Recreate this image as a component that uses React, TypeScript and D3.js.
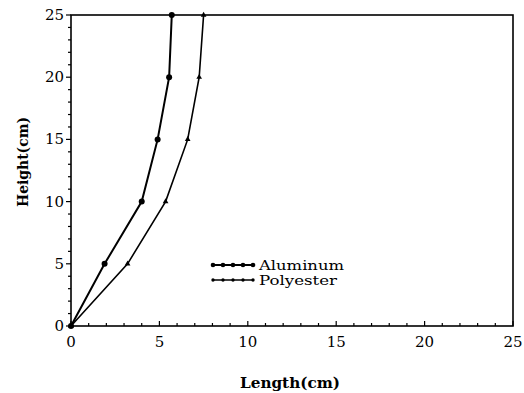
import React from "react";
import * as d3 from "d3";

const heights = [0, 5, 10, 15, 20, 25];
const aluminum = [0, 1.9, 4.0, 4.9, 5.55, 5.7];
const polyester = [0, 3.2, 5.35, 6.6, 7.25, 7.5];
const xTicks = [0, 5, 10, 15, 20, 25];
const yTicks = [0, 5, 10, 15, 20, 25];
const legendNames = ["Aluminum", "Polyester"];
const legendWidths = [85, 78];

export default function App() {
  const W = 524, H = 393;
  const x = d3.scaleLinear().domain([0, 25]).range([71, 513]);
  const y = d3.scaleLinear().domain([0, 25]).range([326, 15]);
  const line = d3.line<[number, number]>().x(d => x(d[0])).y(d => y(d[1]));
  const alPts: [number, number][] = aluminum.map((v, i) => [v, heights[i]]);
  const poPts: [number, number][] = polyester.map((v, i) => [v, heights[i]]);
  const minor = d3.range(0, 26, 1);
  const font = "'DejaVu Serif', 'Liberation Serif', serif";
  const tri = d3.symbol().type(d3.symbolTriangle).size(14)();
  return (
    <svg width={W} height={H} style={{ position: "absolute", left: 0, top: 0, background: "#fff" }} fontFamily={font}>
      <rect x={0} y={0} width={W} height={H} fill="#fff" />
      {/* frame */}
      <rect x={x(0)} y={y(25)} width={x(25) - x(0)} height={y(0) - y(25)} fill="none" stroke="#000" strokeWidth={1.6} />
      {/* x ticks */}
      {minor.map(t => (
        <line key={"xt" + t} x1={x(t)} x2={x(t)} y1={y(0)} y2={y(0) - (t % 5 === 0 ? 5 : 3)} stroke="#000" strokeWidth={1.2} />
      ))}
      {minor.map(t => (
        <line key={"yt" + t} x1={x(0)} x2={x(0) - (t % 5 === 0 ? 5 : 3)} y1={y(t)} y2={y(t)} stroke="#000" strokeWidth={1.2} />
      ))}
      {xTicks.map(t => (
        <text key={"xl" + t} x={x(t)} y={y(0) + 21} textAnchor="middle" fontSize={15} fill="#000">{t}</text>
      ))}
      {yTicks.map(t => (
        <text key={"yl" + t} x={x(0) - 7} y={y(t) + 5} textAnchor="end" fontSize={15} fill="#000">{t}</text>
      ))}
      <text x={240} y={388} textLength={100} lengthAdjust="spacingAndGlyphs" fontSize={14} fontWeight="bold" fill="#000">Length(cm)</text>
      <text transform={`translate(28,207) rotate(-90)`} textLength={90} lengthAdjust="spacingAndGlyphs" fontSize={14} fontWeight="bold" fill="#000">Height(cm)</text>
      {/* series */}
      <path d={line(alPts) || ""} fill="none" stroke="#000" strokeWidth={2} />
      <path d={line(poPts) || ""} fill="none" stroke="#000" strokeWidth={1.6} />
      {alPts.map((p, i) => (
        <circle key={"a" + i} cx={x(p[0])} cy={y(p[1])} r={3} fill="#000" />
      ))}
      {poPts.map((p, i) => (
        <path key={"p" + i} d={tri || ""} transform={`translate(${x(p[0])},${y(p[1])})`} fill="#000" />
      ))}
      {/* legend */}
      {legendNames.map((n, i) => {
        const ly = 265 + i * 15;
        return (
          <g key={n}>
            <line x1={212} x2={253} y1={ly} y2={ly} stroke="#000" strokeWidth={i === 0 ? 2 : 1.6} />
            {d3.range(5).map(k => (
              <circle key={k} cx={213 + k * 10} cy={ly} r={i === 0 ? 2.3 : 1.7} fill="#000" />
            ))}
            <text x={259} y={ly + 5} fontSize={13.5} textLength={legendWidths[i]} lengthAdjust="spacingAndGlyphs" fill="#000">{n}</text>
          </g>
        );
      })}
    </svg>
  );
}
